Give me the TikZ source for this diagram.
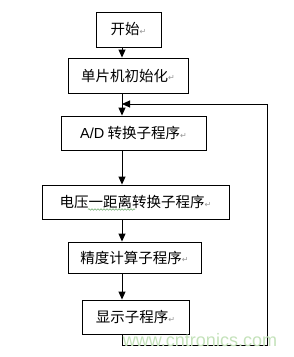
\documentclass[tikz,border=0pt]{standalone}
\usepackage{fontspec}
\setmainfont{Noto Sans CJK SC}
\newfontfamily\latinf{Liberation Sans}
\newfontfamily\symf{DejaVu Sans}
\usetikzlibrary{arrows.meta,decorations.pathmorphing}
\definecolor{wm}{RGB}{196,226,186}
\definecolor{pm}{RGB}{150,150,150}
\definecolor{wavy}{RGB}{110,170,110}
\newcommand{\pmark}{{\symf\fontsize{8}{8}\selectfont\color{pm}\raisebox{0.5pt}{↵}}}
\begin{document}
\begin{tikzpicture}[x=1pt,y=-1pt,
  box/.style={draw=black,line width=0.9pt,inner sep=0pt,font=\fontsize{14.5}{16}\selectfont},
  conn/.style={line width=0.9pt,-{Triangle[width=7pt,length=8pt]}}]
\useasboundingbox[fill=white] (0,0) rectangle (293,357);
\node[box,minimum width=65pt,minimum height=35pt] (b1) at (128.5,29.5) {开始\pmark};
\node[box,minimum width=120pt,minimum height=35pt] (b2) at (128,75.5) {单片机初始化\pmark};
\node[box,minimum width=145pt,minimum height=34pt] (b3) at (133.5,133) {{\latinf A/D} 转换子程序\pmark};
\node[box,minimum width=187pt,minimum height=34pt] (b4) at (135.5,202) {电压一距离转换子程序\pmark};
\node[box,minimum width=133pt,minimum height=31pt] (b5) at (134.5,257.5) {精度计算子程序\pmark};
\node[box,minimum width=107pt,minimum height=34pt] (b6) at (135.5,317) {显示子程序\pmark};
\coordinate (sx) at (122,0);
\coordinate (c1) at (122,345);
\coordinate (c2) at (267,345);
\coordinate (c3) at (267,104);
\coordinate (c4) at (122,104);
\draw[conn] (b1.south -| sx) -- (b2.north -| sx);
\draw[conn] (b2.south -| sx) -- (b3.north -| sx);
\draw[conn] (b3.south -| sx) -- (b4.north -| sx);
\draw[conn] (b4.south -| sx) -- (b5.north -| sx);
\draw[conn] (b5.south -| sx) -- (b6.north -| sx);
\draw[line width=0.9pt] (b6.south -| sx) -- (c1) -- (c2) -- (c3);
\draw[conn] (c3) -- (c4);
\draw[wavy,line width=0.5pt,decorate,decoration={snake,amplitude=0.8pt,segment length=3pt}] (88,209.5) -- (135,209.5);
\node[text=wm,font=\latinf\fontsize{18}{18}\selectfont,inner sep=0pt] (wmk) at (200,340) {www.cntronics.com};
\end{tikzpicture}
\end{document}
